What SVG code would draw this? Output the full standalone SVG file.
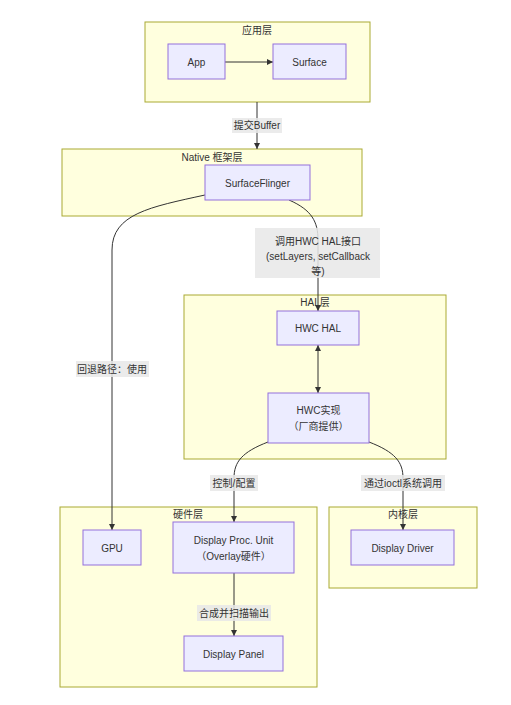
<svg xmlns="http://www.w3.org/2000/svg" width="511" height="705" viewBox="0 0 511 705">
<defs>
<marker id="ah" viewBox="0 0 10 10" refX="10" refY="5" markerWidth="6" markerHeight="6" orient="auto-start-reverse" markerUnits="userSpaceOnUse">
<path d="M0,0 L10,5 L0,10 z" fill="#333333"/>
</marker>
<style>
.cl{fill:#ffffde;stroke:#aaaa33;stroke-width:1}
.nd{fill:#ececff;stroke:#9370db;stroke-width:1}
.t{font-family:"Liberation Sans","Noto Sans CJK SC",sans-serif;font-size:10px;fill:#333333;text-anchor:middle;dominant-baseline:central}
.e{fill:none;stroke:#333333;stroke-width:1}
.lb{fill:#e8e8e8;opacity:0.85}
</style>
</defs>
<rect width="511" height="705" fill="#ffffff"/>
<g id="clusters">
<g id="c-app"><rect class="cl" x="145" y="22" width="225" height="80"/><text class="t" x="257" y="30">应用层</text></g>
<g id="c-native"><rect class="cl" x="62" y="149" width="300" height="67"/><text class="t" x="212" y="157">Native 框架层</text></g>
<g id="c-hal"><rect class="cl" x="184" y="295" width="262" height="164"/><text class="t" x="315" y="302">HAL层</text></g>
<g id="c-hw"><rect class="cl" x="60" y="507" width="257" height="180"/><text class="t" x="188" y="514">硬件层</text></g>
<g id="c-kernel"><rect class="cl" x="329" y="507" width="148" height="81"/><text class="t" x="403" y="514">内核层</text></g>
</g>
<g id="connectors">
<path class="e" d="M225,62 L273,62" marker-end="url(#ah)"/>
<path class="e" d="M257,102 L257,149" marker-end="url(#ah)"/>
<path class="e" d="M205,195 C150,207 112,214 112,250 L112,530" marker-end="url(#ah)"/>
<path class="e" d="M289,200 C312,210 318,222 318,240 L318,311" marker-end="url(#ah)"/>
<path class="e" d="M318,345 L318,393" marker-start="url(#ah)" marker-end="url(#ah)"/>
<path class="e" d="M268,442 C242,452 234,462 234,478 L234,522" marker-end="url(#ah)"/>
<path class="e" d="M369,442 C395,452 403,462 403,478 L403,530" marker-end="url(#ah)"/>
<path class="e" d="M234,573 L234,636" marker-end="url(#ah)"/>
<g id="edge-labels">
<rect class="lb" x="232" y="118" width="50" height="15"/><text class="t" x="257" y="125.5">提交Buffer</text>
<rect class="lb" x="76" y="361" width="73" height="16"/><text class="t" x="112" y="369">回退路径：使用</text>
<rect class="lb" x="255" y="228" width="125" height="50"/>
<text class="t" x="318" y="241">调用HWC HAL接口</text>
<text class="t" x="318" y="256">(setLayers, setCallback</text>
<text class="t" x="318" y="271">等)</text>
<rect class="lb" x="210" y="475" width="48" height="16"/><text class="t" x="234" y="483">控制/配置</text>
<rect class="lb" x="361" y="475" width="84" height="16"/><text class="t" x="403" y="483">通过ioctl系统调用</text>
<rect class="lb" x="197" y="605" width="74" height="16"/><text class="t" x="234" y="613">合成并扫描输出</text>
</g>
</g>
<g id="n-app"><rect class="nd" x="168" y="44" width="57" height="35"/><text class="t" x="196.5" y="62">App</text></g>
<g id="n-surface"><rect class="nd" x="273" y="44" width="73" height="35"/><text class="t" x="309.5" y="62">Surface</text></g>
<g id="n-sf"><rect class="nd" x="205" y="165" width="105" height="35"/><text class="t" x="257.5" y="183">SurfaceFlinger</text></g>
<g id="n-hwchal"><rect class="nd" x="277" y="311" width="82" height="34"/><text class="t" x="318" y="328">HWC HAL</text></g>
<g id="n-hwcimpl"><rect class="nd" x="268" y="393" width="101" height="50"/><text class="t" x="318.5" y="410">HWC实现</text><text class="t" x="318.5" y="426">（厂商提供）</text></g>
<g id="n-gpu"><rect class="nd" x="83" y="530" width="58" height="35"/><text class="t" x="112" y="548">GPU</text></g>
<g id="n-dpu"><rect class="nd" x="173" y="522" width="121" height="51"/><text class="t" x="233.5" y="540">Display Proc. Unit</text><text class="t" x="233.5" y="556">（Overlay硬件）</text></g>
<g id="n-panel"><rect class="nd" x="184" y="636" width="99" height="35"/><text class="t" x="233.5" y="654">Display Panel</text></g>
<g id="n-driver"><rect class="nd" x="351" y="530" width="103" height="35"/><text class="t" x="402.5" y="548">Display Driver</text></g>
</svg>
